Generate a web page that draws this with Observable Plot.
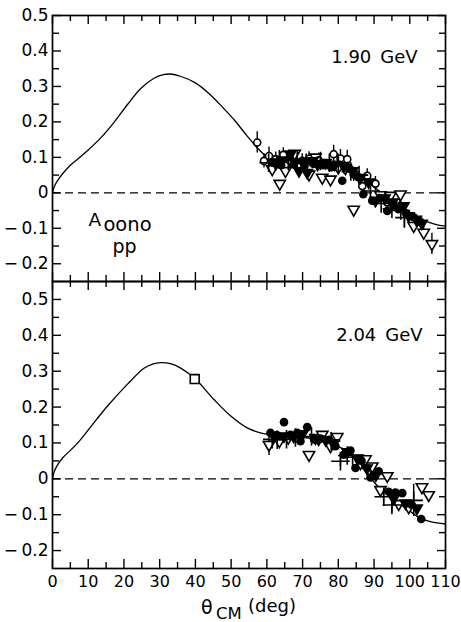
<!DOCTYPE html>
<html><head><meta charset="utf-8">
<script src="https://cdn.jsdelivr.net/npm/d3@7"></script>
<script src="https://cdn.jsdelivr.net/npm/@observablehq/plot@0.6"></script>
<style>
body{margin:0;background:#fff;}
#chart{width:461px;height:622px;position:relative;background:#fff;}
#chart svg{display:block;}
</style></head><body><div id="chart"></div>
<script>
// ---------- axis ticks ----------
const xMajor = [0,10,20,30,40,50,60,70,80,90,100,110];
const xMinor = [5,15,25,35,45,55,65,75,85,95,105];
const yMajor = [-0.2,-0.1,0,0.1,0.2,0.3,0.4,0.5];
const yMinor = [-0.15,-0.05,0.05,0.15,0.25,0.35,0.45];

// ---------- 1.90 GeV panel ----------
const curveTop = [[0,0],[0.5,0.018],[1.5,0.036],[3,0.056],[5,0.078],[7,0.095],[10,0.121],[13.5,0.155],[17,0.196],[21,0.249],[24.7,0.294],[28.4,0.323],[31,0.333],[33,0.335],[36,0.328],[40,0.31],[44,0.278],[48,0.237],[51,0.204],[54.5,0.16],[57.3,0.127],[60,0.102],[63,0.09],[67,0.084],[72,0.082],[77,0.079],[81,0.07],[84,0.058],[87,0.038],[90,0.016],[93,-0.006],[96,-0.028],[99,-0.05],[102,-0.068],[105,-0.082],[108,-0.091],[110,-0.094]];
const openCircTop = [[57.3,0.142,0.03],[59.2,0.090,0.02],[60.6,0.104,0.025],[62.5,0.095,0.02],[64.6,0.107,0.02],[66.3,0.092,0.02],[69.9,0.090,0.02],[71.8,0.096,0.02],[74.5,0.092,0.02],[78.7,0.109,0.025],[80.6,0.097,0.025],[82.5,0.095,0.025],[84.3,0.052,0.02],[86.7,0.019,0.02],[88.1,0.048,0.02],[90.4,0.026,0.02],[93.7,-0.027,0.02]];
const fillCircTop = [[61.8,0.085],[64.0,0.078],[67.5,0.080],[70.5,0.075],[73.0,0.082],[75.8,0.078],[78.0,0.072],[81.1,0.034],[83.2,0.068],[85.5,0.045],[87.0,-0.004],[89.5,-0.022],[91.5,-0.015],[93.7,-0.051],[95.5,-0.035],[96.9,-0.046],[99.0,-0.058],[101.1,-0.069],[103.0,-0.082]];
const openTriTop = [[61.5,0.067],[63.6,0.026],[65.2,0.062],[67.8,0.111],[71.8,0.052],[73.6,0.100],[75.5,0.043],[77.8,0.038],[80.0,0.072],[82.0,0.070],[84.3,-0.047],[86.5,0.035],[91.8,-0.006],[94.6,-0.008],[96.0,-0.027],[97.4,-0.004],[101.1,-0.093],[103.9,-0.112,0.02],[106.2,-0.144,0.03]];
const fillTriTop = [[62.5,0.082],[64.2,0.092],[66.6,0.109],[69.0,0.062],[70.2,0.085],[71.3,0.057],[72.8,0.090],[74.2,0.080],[76.5,0.085],[79.0,0.080],[81.5,0.075],[84.0,0.062],[86.2,0.043],[88.5,0.030],[90.4,-0.022],[93.0,-0.015],[95.0,-0.030],[98.3,-0.037],[99.7,-0.065],[101.8,-0.075],[103.4,-0.086]];
const plusTop = [[60.5,0.085,0.025],[63.5,0.095],[66.0,0.090],[68.5,0.095],[71.0,0.085],[75.0,0.090],[77.5,0.085],[80.0,0.085],[83.5,0.060],[85.8,0.050],[89.0,0.005],[92.0,-0.030],[95.0,-0.045],[97.5,-0.050],[98.5,-0.070,0.03]];
const squareTop = [];

// ---------- 2.04 GeV panel ----------
const curveBot = [[0,0],[0.5,0.02],[1.5,0.04],[3,0.06],[5.1,0.08],[7.5,0.105],[10.3,0.14],[15.4,0.203],[21,0.264],[25.6,0.308],[28,0.32],[30.3,0.324],[33,0.321],[36,0.308],[40,0.278],[45.2,0.221],[49.9,0.175],[54.5,0.142],[58.2,0.128],[61,0.123],[65,0.12],[70,0.116],[75,0.108],[79,0.094],[82,0.08],[85,0.05],[88,0.015],[91,-0.02],[94,-0.045],[97,-0.068],[100,-0.09],[103,-0.11],[106,-0.12],[110,-0.126]];
const openCircBot = [];
const fillCircBot = [[61.0,0.128],[62.8,0.122],[64.8,0.158],[66.6,0.123],[68.5,0.128],[69.4,0.105],[71.3,0.144],[73.2,0.110],[75.0,0.112],[77.4,0.109],[79.2,0.091],[81.5,0.067],[83.4,0.079],[84.8,0.030],[86.5,0.050],[89.0,0.004],[91.3,0.021],[94.1,-0.036],[96.0,-0.038],[97.9,-0.040],[100.5,-0.072],[103.2,-0.112]];
const openTriBot = [[60.6,0.095,0.03],[63.5,0.105],[66.0,0.115],[71.8,0.067],[73.6,0.114],[75.5,0.123],[77.8,0.091],[79.7,0.117],[86.2,0.044],[87.6,0.055],[89.5,0.035],[91.8,-0.031],[93.7,0.008],[96.9,-0.070],[99.7,-0.079],[103.4,-0.023],[105.3,-0.045]];
const fillTriBot = [[62.0,0.119],[64.8,0.119],[67.5,0.118],[70.0,0.125],[74.5,0.110],[76.5,0.108],[78.5,0.100],[82.5,0.075],[85.5,0.058],[88.0,0.030],[90.5,0.010],[95.5,-0.055],[98.8,-0.068],[102.0,-0.082]];
const plusBot = [[61.5,0.110,0.02],[62.9,0.109],[65.5,0.110],[68.0,0.115],[72.5,0.118],[78.0,0.105],[80.6,0.049,0.015],[82.5,0.065],[84.0,0.060],[92.7,-0.050,0.02],[95.0,-0.073,0.02],[101.1,-0.060,0.045]];
const squareBot = [[39.8,0.278]];

const FONT = "'DejaVu Sans', Verdana, sans-serif";
const W = 461, ML = 52, MR = 16;
const PW = W - ML - MR;

const toObj = a => a.map(([x, y, e]) => ({x, y, e: e || 0}));
const fmtY = d => d === 0 ? "0" : (d < 0 ? "\u2212\u2009" + Math.abs(d).toFixed(1) : d.toFixed(1));

function panel(o) {
  const PH = o.height - o.mt - o.mb;
  const all = [o.oc, o.fc, o.ot, o.ft, o.pl].flatMap(toObj).filter(d => d.e > 0);
  const marks = [
    Plot.ruleY([0], {stroke: "#000", strokeWidth: 1.2, strokeDasharray: "8,5"}),
    Plot.line(o.curve.map(([x, y]) => ({x, y})), {x: "x", y: "y", curve: "catmull-rom", stroke: "#000", strokeWidth: 1.3}),
    Plot.ruleX(all, {x: "x", y1: d => d.y - d.e, y2: d => d.y + d.e, stroke: "#000", strokeWidth: 1.4}),
    Plot.dot(toObj(o.ot), {x: "x", y: "y", symbol: "triangle", rotate: 180, r: 4.2, fill: "#fff", stroke: "#000", strokeWidth: 1.6}),
    Plot.dot(toObj(o.oc), {x: "x", y: "y", symbol: "circle", r: 3.5, fill: "#fff", stroke: "#000", strokeWidth: 1.6}),
    Plot.dot(toObj(o.ft), {x: "x", y: "y", symbol: "triangle", rotate: 180, r: 4.2, fill: "#000", stroke: "#000", strokeWidth: 1.2}),
    Plot.dot(toObj(o.fc), {x: "x", y: "y", symbol: "circle", r: 4.3, fill: "#000", stroke: "none"}),
    Plot.dot(toObj(o.pl), {x: "x", y: "y", symbol: "plus", r: 6, stroke: "#000", strokeWidth: 1.6}),
    Plot.dot(toObj(o.sq), {x: "x", y: "y", symbol: "square", r: 5, fill: "#fff", stroke: "#000", strokeWidth: 1.6}),
    // inward ticks
    Plot.tickX(xMajor, {insetBottom: PH - 9, stroke: "#000", strokeWidth: 1.4}),
    Plot.tickX(xMinor, {insetBottom: PH - 6, stroke: "#000", strokeWidth: 1.4}),
    Plot.tickX(xMajor, {insetTop: PH - 9, stroke: "#000", strokeWidth: 1.4}),
    Plot.tickX(xMinor, {insetTop: PH - 6, stroke: "#000", strokeWidth: 1.4}),
    Plot.tickY(yMajor, {insetRight: PW - 9, stroke: "#000", strokeWidth: 1.4}),
    Plot.tickY(yMinor, {insetRight: PW - 7, stroke: "#000", strokeWidth: 1.4}),
    Plot.tickY(yMajor, {insetLeft: PW - 8, stroke: "#000", strokeWidth: 1.4}),
    Plot.tickY(yMinor, {insetLeft: PW - 6, stroke: "#000", strokeWidth: 1.4}),
    Plot.frame({stroke: "#000", strokeWidth: 1.7}),
    Plot.axisY({ticks: yMajor, tickSize: 0, tickPadding: 4, tickFormat: fmtY, label: null, fontSize: 17}),
    Plot.text([o.label], {x: o.labelX, y: o.labelY, textAnchor: "end", fontSize: 18})
  ];
  if (o.xAxis) marks.push(Plot.axisX({ticks: xMajor, tickSize: 0, tickPadding: 7, tickFormat: d => String(d), label: null, fontSize: 16}));
  else marks.push(Plot.axisX({ticks: [], label: null}));
  return Plot.plot({
    width: W, height: o.height,
    marginLeft: ML, marginRight: MR, marginTop: o.mt, marginBottom: o.mb,
    x: {domain: [0, 110]},
    y: {domain: o.yDomain},
    style: {fontFamily: FONT, background: "transparent", overflow: "visible", color: "#000"},
    marks
  });
}

const topPanel = panel({
  curve: curveTop, oc: openCircTop, fc: fillCircTop, ot: openTriTop, ft: fillTriTop, pl: plusTop, sq: squareTop,
  yDomain: [-0.25, 0.5], height: 281, mt: 15, mb: 0,
  label: "1.90\u2002GeV", labelX: 102.2, labelY: 0.382, xAxis: false
});
const botPanel = panel({
  curve: curveBot, oc: openCircBot, fc: fillCircBot, ot: openTriBot, ft: fillTriBot, pl: plusBot, sq: squareBot,
  yDomain: [-0.25, 0.55], height: 341, mt: 0, mb: 54,
  label: "2.04\u2002GeV", labelX: 103.6, labelY: 0.40, xAxis: true
});

const chart = document.getElementById("chart");
chart.appendChild(topPanel);
chart.appendChild(botPanel);

// observable label A_oono over pp, placed through the panel's scales
const sx = topPanel.scale("x"), sy = topPanel.scale("y");
const lab = d3.select(topPanel).append("text").attr("font-family", FONT).attr("fill", "#000").attr("text-anchor", "start");
lab.append("tspan").attr("x", sx.apply(10.2)).attr("y", sy.apply(-0.078) + 6).attr("font-size", 18.5).text("A");
lab.append("tspan").attr("x", sx.apply(14.4)).attr("y", sy.apply(-0.097) + 4).attr("font-size", 19.5).text("oono");
lab.append("tspan").attr("x", sx.apply(16.9)).attr("y", sy.apply(-0.151) + 7).attr("font-size", 19).text("pp");

// axis title θ_CM (deg)
const t = d3.select(botPanel).append("text").attr("font-family", FONT).attr("fill", "#000").attr("text-anchor", "start");
t.append("tspan").attr("x", 201).attr("y", 333).attr("font-size", 19).text("θ");
t.append("tspan").attr("x", 216).attr("y", 337.5).attr("font-size", 16.5).text("CM");
t.append("tspan").attr("x", 248).attr("y", 330.5).attr("font-size", 18).text("(deg)");
</script></body></html>
